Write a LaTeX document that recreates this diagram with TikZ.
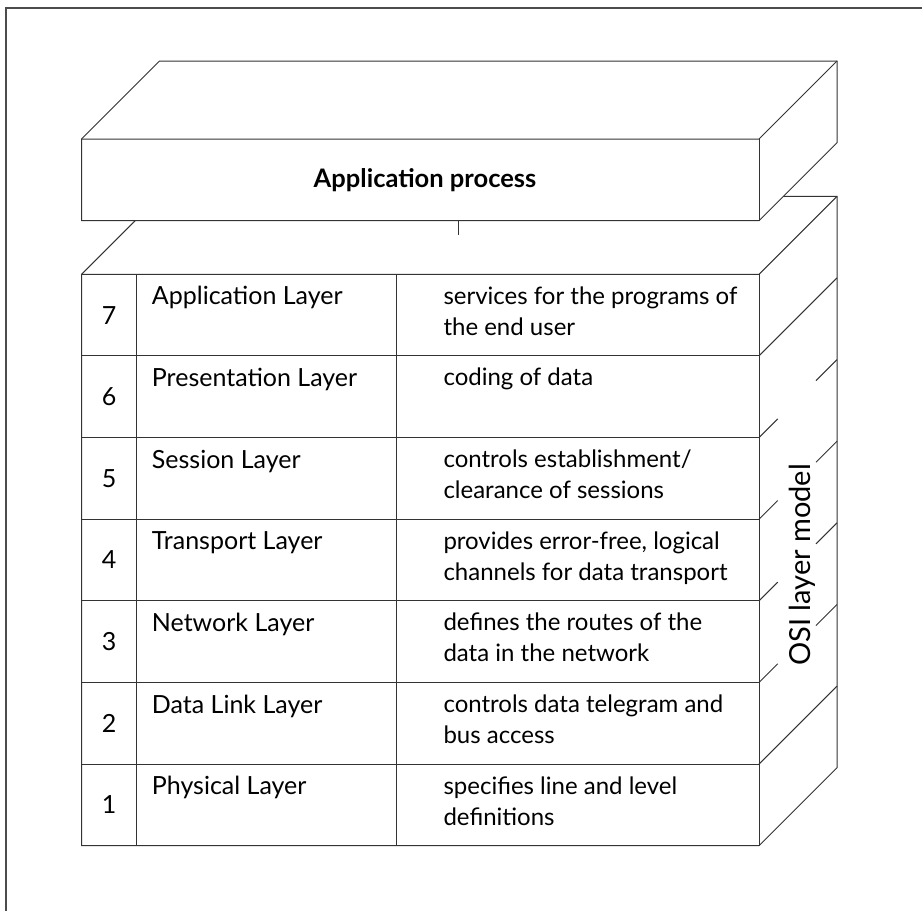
\documentclass[tikz,border=0pt]{standalone}
\usepackage{fontspec}
\setmainfont{Lato}
\newcommand\twolines[2]{\vtop{\hbox{#1}\hbox{#2}}}
\begin{document}
\begin{tikzpicture}[x=1pt,y=-1pt,
  edge/.style={line width=1pt, draw=black!80, line join=miter},
  face/.style={edge, fill=white},
  frameline/.style={line width=2pt, draw=black!70},
  numtxt/.style={font=\fontsize{25}{31}\selectfont, inner sep=0pt, anchor=center},
  nametxt/.style={font=\fontsize{25}{31}\selectfont, inner sep=0pt, anchor=base west},
  desctxt/.style={font=\fontsize{24}{31}\selectfont, inner sep=0pt, anchor=base west},
  titletxt/.style={font=\fontsize{25.5}{30}\selectfont\bfseries, inner sep=0pt},
  sidetxt/.style={font=\fontsize{29}{34}\selectfont, inner sep=0pt, rotate=90, anchor=base}
]
\useasboundingbox (0,0) rectangle (922,911);
% outer frame (top and left edges)
\draw[frameline] (6,911) -- (6,8) -- (922,8);

% ---------- lower block (OSI stack) ----------
\coordinate (LFtl) at (81.5,274.3);
\coordinate (LFtr) at (759,274.3);
\coordinate (LFbl) at (81.5,845.7);
\coordinate (LFbr) at (759,845.7);
\coordinate (LBtl) at (159.5,196.3);
\coordinate (LBtr) at (837,196.3);
\coordinate (LBbr) at (837,767.7);
\draw[face] (LFtl) -- (LBtl) -- (LBtr) -- (LBbr) -- (LFbr) -- (LFbl) -- cycle;
\draw[edge] (LFtl) -- (LFtr) -- (LBtr);
\draw[edge] (LFtr) -- (LFbr);
% columns
\draw[edge] (136.7,274.3) -- (136.7,845.7);
\draw[edge] (396,274.3) -- (396,845.7);
% rows
\foreach \yy in {355.9,437.6,519.2,600.8,682.5,764.1}
  \draw[edge] (81.5,\yy) -- (759,\yy);
% right face row lines (full)
\foreach \yy in {355.9,764.1}
  \draw[edge] (759,\yy) -- (837,{\yy-78});
% right face row lines (interrupted)
\foreach \yy in {437.6,519.2,600.8,682.5} {
  \draw[edge] (759,\yy) -- (777.7,{\yy-18.7});
  \draw[edge] (816,{\yy-57}) -- (837,{\yy-78});
}

% ---------- upper block (application process) ----------
\coordinate (UFtl) at (81.5,139);
\coordinate (UFtr) at (759,139);
\coordinate (UFbl) at (81.5,220.7);
\coordinate (UFbr) at (759,220.7);
\coordinate (UBtl) at (159.5,61);
\coordinate (UBtr) at (837,61);
\coordinate (UBbr) at (837,142.7);
\draw[face] (UFtl) -- (UBtl) -- (UBtr) -- (UBbr) -- (UFbr) -- (UFbl) -- cycle;
\draw[edge] (UFtl) -- (UFtr) -- (UBtr);
\draw[edge] (UFtr) -- (UFbr);
\node[titletxt] (apptitle) at (425,180) {Application process};

% connector tick
\coordinate (tickA) at (458,220.7);
\coordinate (tickB) at (458,235);
\draw[edge] (tickA) -- (tickB);

% ---------- table text ----------
\node[numtxt] (n7) at (109,315.1) {7};
\node[numtxt] (n6) at (109,396.7) {6};
\node[numtxt] (n5) at (109,478.4) {5};
\node[numtxt] (n4) at (109,560.0) {4};
\node[numtxt] (n3) at (109,641.6) {3};
\node[numtxt] (n2) at (109,723.3) {2};
\node[numtxt] (n1) at (109,804.9) {1};

\node[nametxt] (l7) at (151.7,304.8) {Application Layer};
\node[nametxt] (l6) at (151.7,386.4) {Presentation Layer};
\node[nametxt] (l5) at (151.7,468.1) {Session Layer};
\node[nametxt] (l4) at (151.7,549.7) {Transport Layer};
\node[nametxt] (l3) at (151.7,631.3) {Network Layer};
\node[nametxt] (l2) at (151.7,713.0) {Data Link Layer};
\node[nametxt] (l1) at (151.7,794.6) {Physical Layer};

\node[desctxt] (d7) at (443.3,304.3) {\twolines{services for the programs of}{the end user}};
\node[desctxt] (d6) at (443.3,385.9) {coding of data};
\node[desctxt] (d5) at (443.3,467.6) {\twolines{controls establishment/}{clearance of sessions}};
\node[desctxt] (d4) at (443.3,549.2) {\twolines{provides error-free, logical}{channels for data transport}};
\node[desctxt] (d3) at (443.3,630.8) {\twolines{defines the routes of the}{data in the network}};
\node[desctxt] (d2) at (443.3,712.5) {\twolines{controls data telegram and}{bus access}};
\node[desctxt] (d1) at (443.3,794.1) {\twolines{specifies line and level}{definitions}};

\node[sidetxt] (osi) at (810,565) {OSI layer model};
\end{tikzpicture}
\end{document}
